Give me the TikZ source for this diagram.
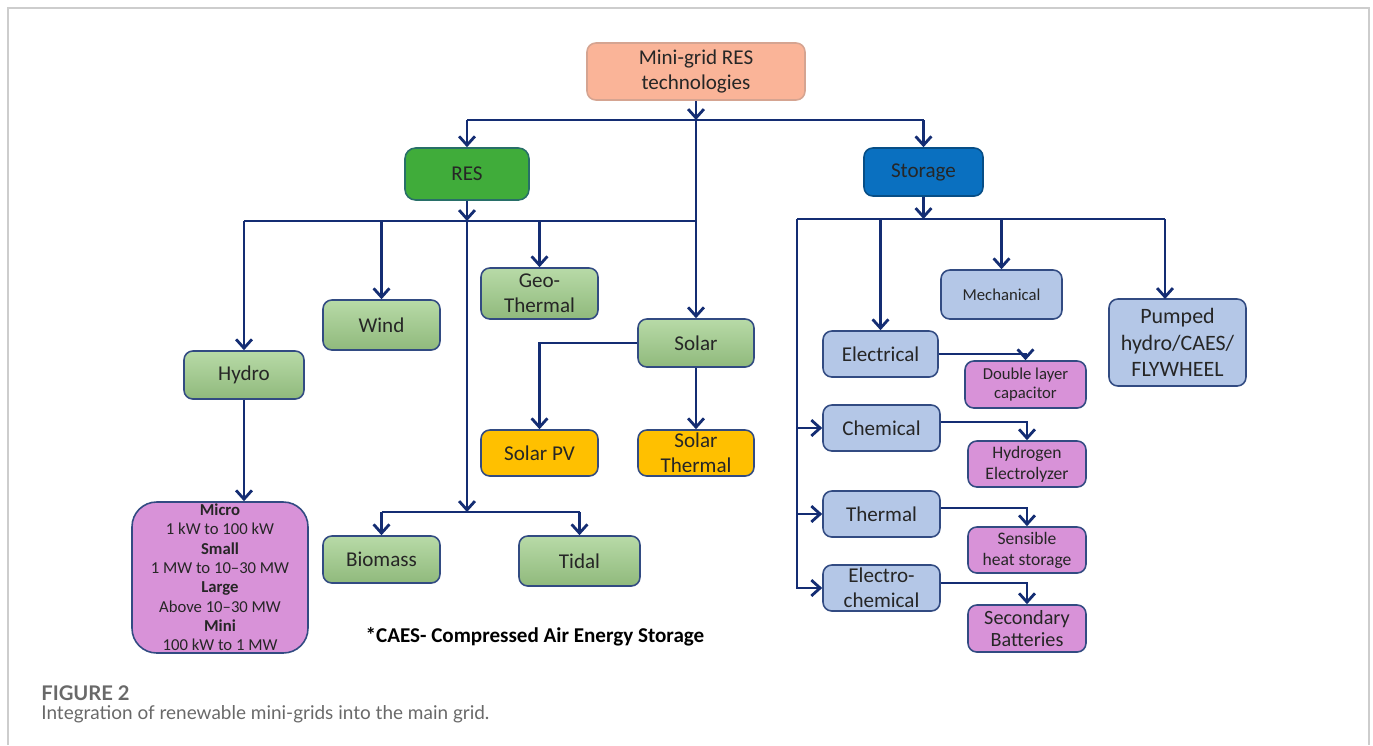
\documentclass[tikz,border=0pt]{standalone}
\usepackage{fontspec}
\setmainfont{Carlito}
\newfontfamily\capfont{Lato}
\usetikzlibrary{positioning, calc, arrows.meta}
\definecolor{linkblue}{RGB}{20,45,115}
\definecolor{salmon}{RGB}{250,180,152}
\definecolor{resgreen}{RGB}{64,172,58}
\definecolor{stblue}{RGB}{10,112,192}
\definecolor{leafgreen}{RGB}{160,206,138}
\definecolor{leafgold}{RGB}{255,192,0}
\definecolor{leafviolet}{RGB}{216,146,216}
\definecolor{leafblue}{RGB}{180,199,231}
\definecolor{edgeblue}{RGB}{50,75,130}
\definecolor{framegray}{RGB}{205,205,205}
\definecolor{capgray}{RGB}{105,105,105}
\tikzset{
  box/.style={draw=edgeblue, line width=0.9pt, rounded corners=5pt, inner sep=0pt,
    align=center, text=black!85, font=\fontsize{12}{14}\selectfont},
  rootbox/.style={box, draw=salmon!70!gray, fill=salmon},
  resbox/.style={box, draw=edgeblue!80!green, fill=resgreen, rounded corners=6pt},
  stbox/.style={box, draw=stblue!70!black, fill=stblue},
  greenbox/.style={box, top color=leafgreen!75!white, bottom color=leafgreen!90!black},
  goldbox/.style={box, fill=leafgold},
  violetbox/.style={box, fill=leafviolet, font=\fontsize{10}{12}\selectfont},
  bluebox/.style={box, fill=leafblue},
  link/.style={draw=linkblue, line width=1.6pt},
  arr/.style={link, -{Straight Barb[length=5pt,width=9pt]}}
}
\begin{document}
\begin{tikzpicture}[x=0.02cm, y=-0.02cm]
  \useasboundingbox (0,0) rectangle (1373,745);
  \draw[framegray, line width=1pt] (8,745) -- (8,8) -- (1369,8) -- (1369,745);

  % top levels
  \node[rootbox, minimum width=4.36cm, minimum height=1.14cm] (root) at (696,71.5) {Mini-grid RES\\technologies};
  \node[resbox, minimum width=2.48cm, minimum height=1.04cm] (res) at (467,174) {RES};
  \node[stbox, minimum width=2.38cm, minimum height=0.96cm] (storage) at (923.5,172) {Storage};

  % RES branch
  \node[greenbox, minimum width=2.4cm, minimum height=0.96cm] (hydro) at (244,375) {Hydro};
  \node[greenbox, minimum width=2.34cm, minimum height=1cm] (wind) at (381.5,325) {Wind};
  \node[greenbox, minimum width=2.34cm, minimum height=1.02cm] (geo) at (539.5,293.5) {Geo-\\Thermal};
  \node[greenbox, minimum width=2.32cm, minimum height=0.96cm] (solar) at (696,343) {Solar};
  \node[goldbox, minimum width=2.34cm, minimum height=0.92cm] (solarpv) at (539.5,453) {Solar PV};
  \node[goldbox, minimum width=2.32cm, minimum height=0.92cm] (solarth) at (696,453) {Solar\\Thermal};
  \node[violetbox, rounded corners=14pt, minimum width=3.52cm, minimum height=3.02cm,
    font=\fontsize{9.5}{11}\selectfont] (hydsize) at (220,577.5)
    {\textbf{Micro}\\1 kW to 100 kW\\\textbf{Small}\\1 MW to 10--30 MW\\\textbf{Large}\\Above 10--30 MW\\\textbf{Mini}\\100 kW to 1 MW};
  \node[greenbox, minimum width=2.34cm, minimum height=0.94cm] (biomass) at (381.5,559.5) {Biomass};
  \node[greenbox, minimum width=2.42cm, minimum height=1cm] (tidal) at (579.5,561) {Tidal};
  \node[font=\fontsize{12}{14}\selectfont\bfseries] (note) at (535,637) {*CAES- Compressed Air Energy Storage};

  % Storage branch
  \node[bluebox, minimum width=2.42cm, minimum height=0.98cm, font=\fontsize{9.5}{11}\selectfont] (mech) at (1001.5,294.5) {Mechanical};
  \node[bluebox, minimum width=2.74cm, minimum height=1.74cm, font=\fontsize{12.5}{15}\selectfont] (pumped) at (1177.5,342.5) {Pumped\\hydro/CAES/\\FLYWHEEL};
  \node[bluebox, minimum width=2.3cm, minimum height=0.92cm] (elec) at (880.5,354) {Electrical};
  \node[violetbox, minimum width=2.42cm, minimum height=0.94cm, font=\fontsize{9.5}{11}\selectfont] (dlc) at (1025.5,384.5) {Double layer\\capacitor};
  \node[bluebox, minimum width=2.34cm, minimum height=0.92cm] (chem) at (881.5,428) {Chemical};
  \node[violetbox, minimum width=2.36cm, minimum height=0.92cm] (htwo) at (1027,464) {Hydrogen\\Electrolyzer};
  \node[bluebox, minimum width=2.34cm, minimum height=0.92cm] (therm) at (881.5,514) {Thermal};
  \node[violetbox, minimum width=2.36cm, minimum height=0.92cm] (sens) at (1027,550) {Sensible\\heat storage};
  \node[bluebox, minimum width=2.34cm, minimum height=0.92cm] (echem) at (881.5,588) {Electro-\\chemical};
  \node[violetbox, minimum width=2.36cm, minimum height=0.94cm, font=\fontsize{11.5}{13}\selectfont] (batt) at (1027,628.5) {Secondary\\Batteries};

  % bars
  \coordinate (topbar) at (696,120);
  \coordinate (resbar) at (467,221);
  \coordinate (biobar) at (467,512);
  \coordinate (stbar) at (923.5,219);
  \coordinate (rail) at (797,219);
  \coordinate (pumpin) at (1165,299);

  \draw[arr] (root.south) -- (topbar);
  \draw[link] (res.north |- topbar) -- (storage.north |- topbar);
  \draw[arr] (res.north |- topbar) -- (res.north);
  \draw[arr] (storage.north |- topbar) -- (storage.north);
  \draw[arr] (topbar) -- (solar.north);

  \draw[arr] (res.south) -- (resbar);
  \draw[link] (hydro.north |- resbar) -- (solar.north |- resbar);
  \draw[arr] (hydro.north |- resbar) -- (hydro.north);
  \draw[arr] (wind.north |- resbar) -- (wind.north);
  \draw[arr] (geo.north |- resbar) -- (geo.north);
  \draw[arr] (resbar) -- (biobar);
  \draw[link] (biomass.north |- biobar) -- (tidal.north |- biobar);
  \draw[arr] (biomass.north |- biobar) -- (biomass.north);
  \draw[arr] (tidal.north |- biobar) -- (tidal.north);
  \draw[arr] (hydro.south) -- (hydro.south |- hydsize.north);
  \draw[arr] (solar.west) -| (solarpv.north);
  \draw[arr] (solar.south) -- (solarth.north);

  \draw[arr] (storage.south) -- (stbar);
  \draw[link] (rail) -- (pumpin |- stbar);
  \draw[arr] (pumpin |- stbar) -- (pumpin);
  \draw[arr] (elec.north |- stbar) -- (elec.north);
  \draw[arr] (mech.north |- stbar) -- (mech.north);
  \draw[arr] (rail) |- (echem.west);
  \draw[arr] (rail |- chem.west) -- (chem.west);
  \draw[arr] (rail |- therm.west) -- (therm.west);
  \draw[arr] (elec.east) -| (dlc.north);
  \draw[arr] ([yshift=0.12cm]chem.east) -| (htwo.north);
  \draw[arr] ([yshift=0.12cm]therm.east) -| (sens.north);
  \draw[arr] ([yshift=0.1cm]echem.east) -| (batt.north);

  % caption
  \node[anchor=base west, inner sep=0pt, text=capgray, font=\capfont\fontsize{11.5}{13}\selectfont\bfseries] (figno) at (41,700) {FIGURE 2};
  \node[anchor=base west, inner sep=0pt, text=capgray, font=\capfont\fontsize{10.8}{13}\selectfont] (figcap) at (41,719) {Integration of renewable mini-grids into the main grid.};
\end{tikzpicture}
\end{document}
